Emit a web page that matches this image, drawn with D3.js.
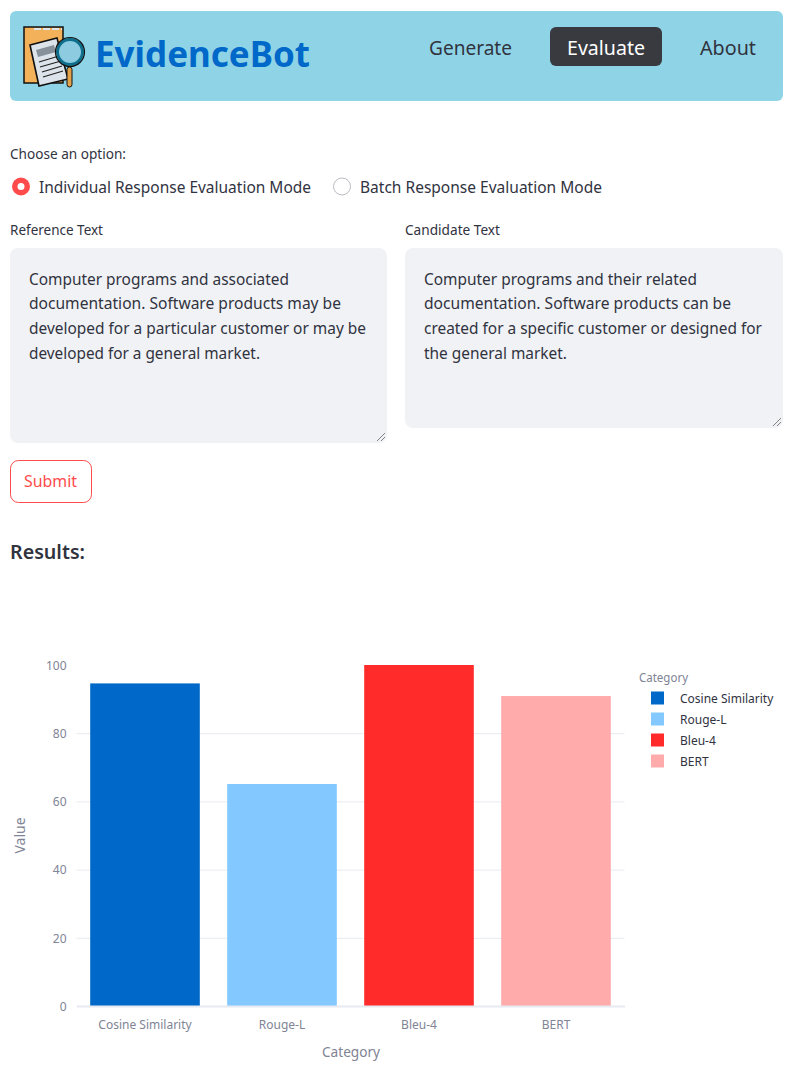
<!DOCTYPE html>
<html>
<head>
<meta charset="utf-8">
<script src="https://cdn.jsdelivr.net/npm/d3@7"></script>
<style>
  html, body { margin: 0; background: #fff; }
  svg { display: block; }
  text { font-family: "Noto Sans", sans-serif; }
</style>
</head>
<body>
<div id="page"></div>
<script>
// Chart data
const categories = ["Cosine Similarity", "Rouge-L", "Bleu-4", "BERT"];
const values = [94.6, 65.1, 100, 90.9];
const barColors = ["#0068c9", "#83c9ff", "#ff2b2b", "#ffabab"];
const yTicks = [0, 20, 40, 60, 80, 100];

// Page text: [text, x, baseline, size, width]
const navItems = [["Generate", 429, 55, 20, 83], ["About", 700, 55, 20, 56]];
const pageLabels = [
    ["Choose an option:", 10, 159, 14, 116],
    ["Individual Response Evaluation Mode", 39, 193, 16, 272],
    ["Batch Response Evaluation Mode", 360, 193, 16, 242],
    ["Reference Text", 10, 235, 14, 93],
    ["Candidate Text", 405, 235, 14, 95]
];
const referenceLines = [
    ["Computer programs and associated", 29, 285, 16, 260],
    ["documentation. Software products may be", 29, 309, 16, 312],
    ["developed for a particular customer or may be", 29, 334, 16, 337],
    ["developed for a general market.", 29, 359, 16, 231]
];
const candidateLines = [
    ["Computer programs and their related", 424, 285, 16, 273],
    ["documentation. Software products can be", 424, 309, 16, 307],
    ["created for a specific customer or designed for", 424, 334, 16, 338],
    ["the general market.", 424, 359, 16, 143]
];

const width = 794, height = 1078;
const margin = { top: 665, right: 169.5, bottom: 72, left: 76.5 };

const svg = d3.select("#page").append("svg")
    .attr("width", width)
    .attr("height", height);

// Source Sans isn't installed, so squeeze the text to the original widths
function label(parent, [text, x, y, size, w], fill, weight) {
    return parent.append("text")
        .attr("x", x)
        .attr("y", y)
        .attr("font-size", size)
        .attr("font-weight", weight || 400)
        .attr("fill", fill)
        .attr("textLength", w)
        .attr("lengthAdjust", "spacingAndGlyphs")
        .text(text);
}

function box(parent, x, y, w, h, r, fill, stroke) {
    return parent.append("rect")
        .attr("x", x).attr("y", y)
        .attr("width", w).attr("height", h)
        .attr("rx", r)
        .attr("fill", fill)
        .attr("stroke", stroke || "none");
}

// Header
box(svg, 10, 11, 773, 90, 6, "#8fd4e6");
drawLogo(svg.append("g"));
label(svg, ["EvidenceBot", 95, 67, 36, 215], "#0068c9", 700);
navItems.forEach(d => label(svg, d, "#31333f"));
box(svg, 550, 27, 112, 39, 6, "#383a40");
label(svg, ["Evaluate", 567, 55, 20, 78], "#ffffff");

function drawLogo(g) {
    box(g, 24, 27, 39, 56, 0, "#f3b25a", "#111").attr("stroke-width", 1.5);
    g.append("line").attr("x1", 34).attr("x2", 62).attr("y1", 29).attr("y2", 29)
        .attr("stroke", "#dfe6ea").attr("stroke-width", 2).attr("stroke-dasharray", "7 2");
    g.append("path")
        .attr("d", "M30 45L57 38L68 79L39 86Z")
        .attr("fill", "#dde3ea").attr("stroke", "#111").attr("stroke-width", 1.6);
    g.append("path").attr("d", "M36 50L54 45L56 52L38 57Z").attr("fill", "#87919c");
    g.append("path")
        .attr("d", "M39 62L59 56M40 67L61 61M42 72L62 66M43 77L63 71")
        .attr("stroke", "#222").attr("stroke-width", 1.3);
    box(g, 67, 67, 5, 20, 2.5, "#e2a24a", "#111");
    g.append("circle").attr("cx", 70).attr("cy", 52).attr("r", 12.5)
        .attr("fill", "#8dcbe0").attr("stroke", "#0e6f8c").attr("stroke-width", 3);
    g.append("circle").attr("cx", 70).attr("cy", 52).attr("r", 14.5)
        .attr("fill", "none").attr("stroke", "#111").attr("stroke-width", 1.2);
}

// Radio buttons and text areas
pageLabels.forEach(d => label(svg, d, "#31333f"));
svg.append("circle").attr("cx", 21).attr("cy", 186.5).attr("r", 9).attr("fill", "#ff4b4b");
svg.append("circle").attr("cx", 21).attr("cy", 186.5).attr("r", 3.5).attr("fill", "#fff");
svg.append("circle").attr("cx", 342).attr("cy", 186.5).attr("r", 8.5)
    .attr("fill", "#fff").attr("stroke", "#b9bcc2");

box(svg, 10, 248, 377, 195, 8, "#f0f2f6");
box(svg, 405, 248, 378, 180, 8, "#f0f2f6");
referenceLines.forEach(d => label(svg, d, "#31333f"));
candidateLines.forEach(d => label(svg, d, "#31333f"));
[[385, 441], [781, 426]].forEach(([x, y]) => {
    svg.append("path")
        .attr("d", `M${x - 8} ${y}L${x} ${y - 8}M${x - 4} ${y}L${x} ${y - 4}`)
        .attr("stroke", "#666").attr("stroke-width", 0.8);
});

// Submit button and results heading
box(svg, 10.5, 460.5, 81, 42, 8, "#fff", "#ff4b4b");
label(svg, ["Submit", 24, 487, 16, 53], "#ff4b4b");
label(svg, ["Results:", 10, 559, 20, 75], "#31333f", 600);

// Scales
const x = d3.scaleBand()
    .domain(categories)
    .range([margin.left, width - margin.right])
    .paddingInner(0.2)
    .paddingOuter(0.1);

const y = d3.scaleLinear()
    .domain([0, 100])
    .range([height - margin.bottom, margin.top]);

const color = d3.scaleOrdinal().domain(categories).range(barColors);

// Axes
const yAxis = svg.append("g")
    .attr("transform", `translate(${margin.left},0)`)
    .call(d3.axisLeft(y).tickValues(yTicks).tickSize(-(width - margin.left - margin.right)).tickPadding(10));
yAxis.select(".domain").remove();
// no gridline at the very top of the plot
yAxis.selectAll("line")
    .attr("stroke", d => d === 100 ? "none" : "#e6eaf1");
yAxis.selectAll("text")
    .attr("dy", "0.36em")
    .attr("font-size", 12)
    .attr("fill", "#808495")
    .style("font-family", '"Noto Sans", sans-serif');

// Bars
svg.selectAll(".bar")
    .data(categories)
    .enter()
    .append("rect")
    .attr("class", "bar")
    .attr("x", d => x(d))
    .attr("y", (d, i) => y(values[i]))
    .attr("width", x.bandwidth())
    .attr("height", (d, i) => y(0) - y(values[i]))
    .attr("fill", d => color(d));

const xAxis = svg.append("g")
    .attr("transform", `translate(0,${height - margin.bottom})`)
    .call(d3.axisBottom(x).tickSize(0).tickPadding(14));
xAxis.select(".domain").attr("stroke", "#e6eaf1").attr("stroke-width", 2);
xAxis.selectAll("text")
    .attr("font-size", 12)
    .attr("fill", "#808495")
    .style("font-family", '"Noto Sans", sans-serif');

// Axis titles
svg.append("text")
    .attr("x", 351).attr("y", 1057)
    .attr("text-anchor", "middle")
    .attr("font-size", 14)
    .attr("fill", "#808495")
    .attr("textLength", 58)
    .attr("lengthAdjust", "spacingAndGlyphs")
    .text("Category");
svg.append("text")
    .attr("transform", "translate(25,835.5) rotate(-90)")
    .attr("text-anchor", "middle")
    .attr("font-size", 14)
    .attr("fill", "#808495")
    .attr("textLength", 36)
    .attr("lengthAdjust", "spacingAndGlyphs")
    .text("Value");

// Legend
const legendY = d3.scalePoint().domain(categories).range([698, 761]);
label(svg, ["Category", 639, 682, 12, 49], "#808495");
const legend = svg.selectAll(".legend")
    .data(categories)
    .enter()
    .append("g")
    .attr("class", "legend")
    .attr("transform", d => `translate(651,${legendY(d)})`);
legend.append("rect")
    .attr("y", -6.5)
    .attr("width", 13)
    .attr("height", 13)
    .attr("fill", d => color(d));
legend.append("text")
    .attr("x", 29)
    .attr("y", 4.5)
    .attr("font-size", 12)
    .attr("fill", "#31333f")
    .text(d => d);
</script>
</body>
</html>
